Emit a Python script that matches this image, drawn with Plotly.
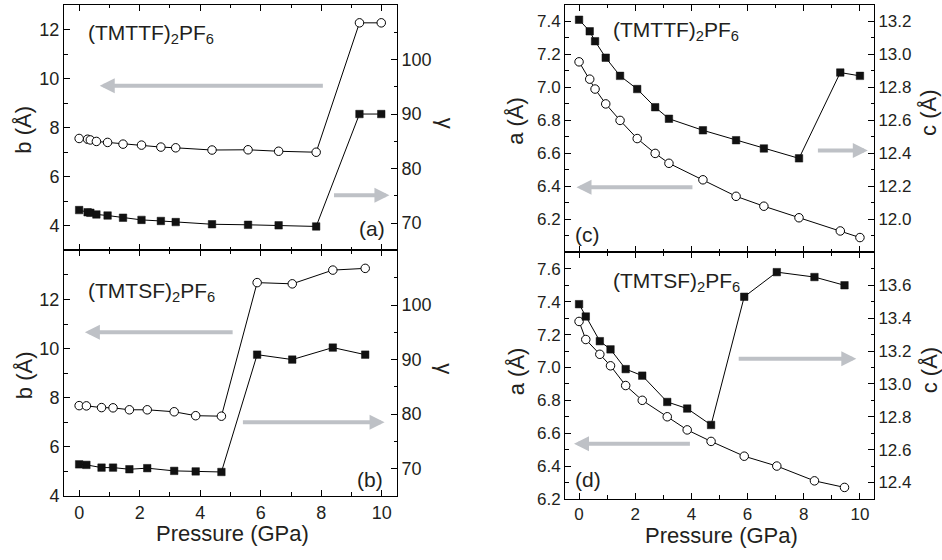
import plotly.graph_objects as go

# ---------------- data ----------------
# (TMTTF)2PF6, panel (a): b axis (open circles) and gamma angle (filled squares)
p_ttf_bg = [0, 0.28, 0.37, 0.57, 0.94, 1.45, 2.06, 2.70, 3.19, 4.39, 5.58, 6.59, 7.83, 9.26, 9.98]
b_ttf = [7.56, 7.53, 7.50, 7.44, 7.40, 7.33, 7.29, 7.21, 7.18, 7.09, 7.10, 7.04, 7.00, 12.27, 12.27]
gamma_ttf = [72.4, 72.0, 71.9, 71.6, 71.4, 71.0, 70.6, 70.4, 70.2, 69.8, 69.7, 69.6, 69.4, 90.0, 90.0]

# (TMTSF)2PF6, panels (b) and (d)
p_tsf = [0, 0.24, 0.74, 1.12, 1.66, 2.25, 3.14, 3.85, 4.70, 5.88, 7.04, 8.38, 9.45]
b_tsf = [7.68, 7.67, 7.60, 7.59, 7.51, 7.51, 7.43, 7.27, 7.25, 12.69, 12.64, 13.20, 13.27]
gamma_tsf = [70.8, 70.7, 70.2, 70.2, 69.9, 70.1, 69.6, 69.5, 69.4, 90.9, 90.0, 92.2, 90.9]
a_tsf = [7.28, 7.17, 7.08, 7.01, 6.89, 6.80, 6.70, 6.62, 6.55, 6.46, 6.40, 6.31, 6.27]
c_tsf = [13.485, 13.41, 13.26, 13.21, 13.09, 13.05, 12.89, 12.85, 12.75, 13.53, 13.68, 13.65, 13.60]

# (TMTTF)2PF6, panel (c): a axis (open circles) and c axis (filled squares)
p_ttf_ac = [0, 0.38, 0.57, 0.95, 1.46, 2.07, 2.71, 3.20, 4.41, 5.59, 6.58, 7.83, 9.30, 10.0]
a_ttf = [7.155, 7.05, 6.99, 6.90, 6.80, 6.69, 6.60, 6.54, 6.44, 6.34, 6.28, 6.21, 6.13, 6.09]
c_ttf = [13.21, 13.14, 13.08, 12.98, 12.87, 12.79, 12.68, 12.61, 12.54, 12.48, 12.43, 12.37, 12.89, 12.87]

# panel labels and titles
panel_tags = ["(a)", "(b)", "(c)", "(d)"]
compound_ttf = "(TMTTF)<sub>2</sub>PF<sub>6</sub>"
compound_tsf = "(TMTSF)<sub>2</sub>PF<sub>6</sub>"
x_title = "Pressure (GPa)"

# ---------------- style ----------------
FONT = "Liberation Sans, Arial, Helvetica, sans-serif"
INK = "#231F20"
ARROW = "#BEC1C6"

W, H = 942, 560
xL = [64 / W, 397 / W]
xR = [565 / W, 874 / W]
ya = [1 - 255 / H, 1 - 5 / H]
yb = [1 - 505 / H, 1 - 255 / H]
yc = [1 - 257 / H, 1 - 5 / H]
yd = [1 - 508 / H, 1 - 257 / H]

fig = go.Figure()

circ = dict(symbol="circle", size=8.5, color="white", line=dict(color="black", width=1))
sq = dict(symbol="square", size=7.5, color="#111", line=dict(color="#111", width=0.5))
ln = dict(color="black", width=1)


def add(x, y, xa, ya_, marker):
    fig.add_trace(go.Scatter(x=x, y=y, xaxis=xa, yaxis=ya_, mode="lines+markers",
                             marker=marker, line=ln, showlegend=False, hoverinfo="x+y"))


add(p_ttf_bg, b_ttf, "x", "y", circ)
add(p_ttf_bg, gamma_ttf, "x", "y2", sq)
add(p_tsf, b_tsf, "x2", "y3", circ)
add(p_tsf, gamma_tsf, "x2", "y4", sq)
add(p_ttf_ac, a_ttf, "x3", "y5", circ)
add(p_ttf_ac, c_ttf, "x3", "y6", sq)
add(p_tsf, a_tsf, "x4", "y7", circ)
add(p_tsf, c_tsf, "x4", "y8", sq)


def xaxis(domain, anchor, labels, tsize):
    return dict(domain=domain, anchor=anchor, range=[-0.5, 10.5],
                tickvals=[0, 2, 4, 6, 8, 10], showticklabels=labels,
                ticks="inside", ticklen=6, tickwidth=1, tickcolor="black",
                minor=dict(tickvals=[1, 3, 5, 7, 9], ticks="inside", ticklen=3.5,
                           tickwidth=1, tickcolor="black"),
                showline=True, linecolor="black", linewidth=1, mirror="ticks",
                showgrid=False, zeroline=False,
                tickfont=dict(family=FONT, size=tsize, color=INK))


def yaxis(domain, anchor, rng, vals, minor, side="left", overlaying=None, fmt=None, tsize=18):
    d = dict(domain=domain, anchor=anchor, range=rng, tickvals=vals,
             ticks="inside", ticklen=6, tickwidth=1, tickcolor="black",
             minor=dict(tickvals=minor, ticks="inside", ticklen=3.5, tickwidth=1,
                        tickcolor="black"),
             showline=True, linecolor="black", linewidth=1, side=side,
             showgrid=False, zeroline=False,
             tickfont=dict(family=FONT, size=tsize, color=INK))
    if overlaying:
        d["overlaying"] = overlaying
    if fmt:
        d["tickformat"] = fmt
    return d


g_major = [70, 80, 90, 100]
g_minor = [65, 75, 85, 95, 105]

fig.update_layout(
    width=W, height=H, margin=dict(l=0, r=0, t=0, b=0),
    paper_bgcolor="white", plot_bgcolor="white",
    font=dict(family=FONT, color=INK),
    xaxis=xaxis(xL, "y", False, 18),
    xaxis2=xaxis(xL, "y3", True, 18),
    xaxis3=xaxis(xR, "y5", False, 17),
    xaxis4=xaxis(xR, "y7", True, 17),
    yaxis=yaxis(ya, "x", [3, 13], [4, 6, 8, 10, 12], [5, 7, 9, 11]),
    yaxis2=yaxis(ya, "x", [65, 110], g_major, g_minor, side="right", overlaying="y"),
    yaxis3=yaxis(yb, "x2", [4, 14], [4, 6, 8, 10, 12], [5, 7, 9, 11, 13]),
    yaxis4=yaxis(yb, "x2", [65, 110], g_major, g_minor, side="right", overlaying="y3"),
    yaxis5=yaxis(yc, "x3", [6.0, 7.5], [6.2, 6.4, 6.6, 6.8, 7.0, 7.2, 7.4],
                 [6.1, 6.3, 6.5, 6.7, 6.9, 7.1, 7.3], fmt=".1f", tsize=17),
    yaxis6=yaxis(yc, "x3", [11.8, 13.3], [12.0, 12.2, 12.4, 12.6, 12.8, 13.0, 13.2],
                 [11.9, 12.1, 12.3, 12.5, 12.7, 12.9, 13.1], side="right",
                 overlaying="y5", fmt=".1f", tsize=17),
    yaxis7=yaxis(yd, "x4", [6.2, 7.7], [6.2, 6.4, 6.6, 6.8, 7.0, 7.2, 7.4, 7.6],
                 [6.3, 6.5, 6.7, 6.9, 7.1, 7.3, 7.5], fmt=".1f", tsize=17),
    yaxis8=yaxis(yd, "x4", [12.3, 13.8], [12.4, 12.6, 12.8, 13.0, 13.2, 13.4, 13.6],
                 [12.5, 12.7, 12.9, 13.1, 13.3, 13.5, 13.7], side="right",
                 overlaying="y7", fmt=".1f", tsize=17),
)

# ---------------- arrows ----------------
arrows = [
    # (xref, yref, head_x, head_y, tail_x, tail_y)
    ("x", "y", 0.68, 9.71, 8.1, 9.71),
    ("x", "y2", 10.25, 75.1, 8.37, 75.1),
    ("x2", "y3", 0.19, 10.67, 5.12, 10.67),
    ("x2", "y4", 10.09, 78.5, 5.36, 78.5),
    ("x3", "y5", -0.09, 6.395, 4.09, 6.395),
    ("x3", "y6", 10.28, 12.417, 8.45, 12.417),
    ("x4", "y7", -0.18, 6.536, 4.0, 6.536),
    ("x4", "y8", 9.87, 13.153, 5.63, 13.153),
]
for xr, yr, hx, hy, tx, ty in arrows:
    fig.add_annotation(x=hx, y=hy, xref=xr, yref=yr, ax=tx, ay=ty, axref=xr, ayref=yr,
                       text="", showarrow=True, arrowhead=2, arrowsize=0.75,
                       arrowwidth=4, arrowcolor=ARROW)

# ---------------- text ----------------
def dom_text(xr, yr, x, y, text, size, xanchor="left"):
    fig.add_annotation(xref=xr + " domain", yref=yr + " domain", x=x, y=y, text=text,
                       showarrow=False, xanchor=xanchor, yanchor="middle",
                       font=dict(family=FONT, size=size, color=INK))


dom_text("x", "y", 0.066, 0.88, compound_ttf, 21)
dom_text("x2", "y3", 0.066, 0.83, compound_tsf, 21)
dom_text("x3", "y5", 0.15, 0.895, compound_ttf, 21)
dom_text("x4", "y7", 0.15, 0.878, compound_tsf, 21)

dom_text("x", "y", 0.925, 0.088, panel_tags[0], 21, "center")
dom_text("x2", "y3", 0.919, 0.068, panel_tags[1], 21, "center")
dom_text("x3", "y5", 0.074, 0.071, panel_tags[2], 21, "center")
dom_text("x4", "y7", 0.074, 0.08, panel_tags[3], 21, "center")


def paper_text(x, y, text, angle=0, size=22):
    fig.add_annotation(xref="paper", yref="paper", x=x / W, y=1 - y / H, text=text,
                       showarrow=False, textangle=angle, xanchor="center", yanchor="middle",
                       font=dict(family=FONT, size=size, color=INK))


paper_text(24, 132, "b (Å)", -90)
paper_text(24, 382, "b (Å)", -90)
paper_text(445, 125, "γ", 90)
paper_text(445, 375, "γ", 90)
paper_text(516, 123, "a (Å)", -90)
paper_text(516, 378, "a (Å)", -90)
paper_text(929, 115, "c (Å)", -90)
paper_text(929, 377, "c (Å)", -90)
paper_text(232, 543, x_title)
paper_text(721, 545, x_title)

fig.write_html("out.html", config={"displayModeBar": False},
               post_script="document.body.style.margin='0px';")
